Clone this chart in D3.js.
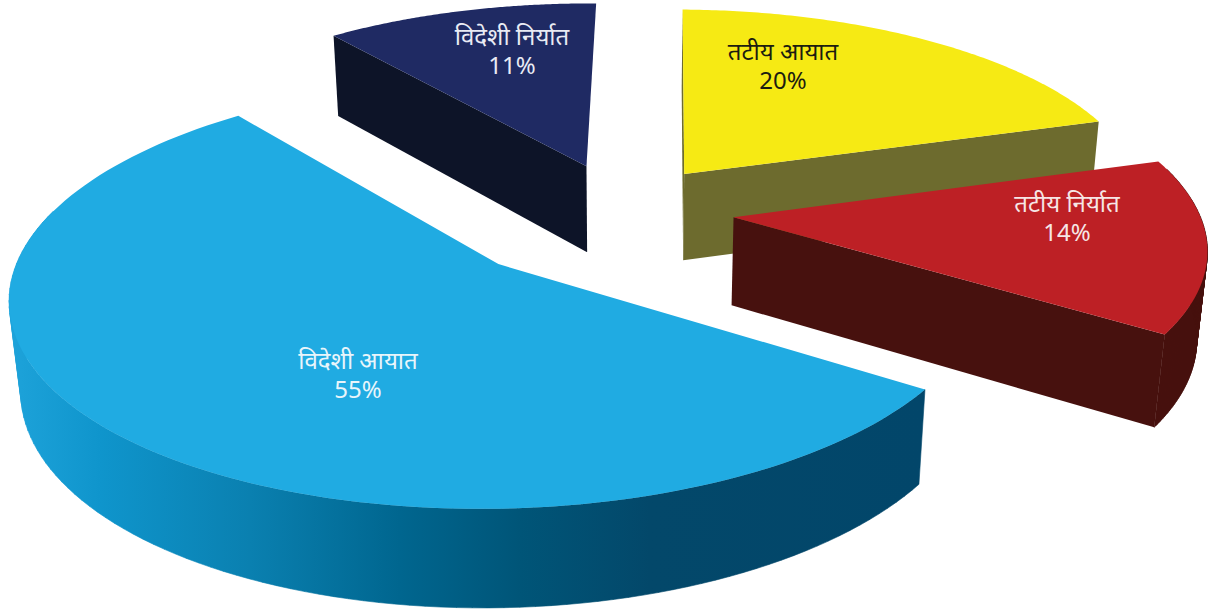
<!DOCTYPE html>
<html>
<head>
<meta charset="utf-8">
<script src="https://cdn.jsdelivr.net/npm/d3@7"></script>
<style>
    body { margin: 0; background: #fff; }
    text { font-family: "Noto Sans", "Open Sans", sans-serif; font-size: 24px; text-anchor: middle; }
</style>
</head>
<body>
<svg id="chart" width="1215" height="609"></svg>
<script>
const sliceLabels = ["विदेशी निर्यात", "तटीय आयात", "तटीय निर्यात", "विदेशी आयात"];
const sliceValues = [11, 20, 14, 55];

const topColors = ["#1f2a63", "#f6ea14", "#bd2025", "#20abe2"];
const sideColors = ["#0d1428", "#6d6b2e", "#47110e", "url(#blueWall)"];
const textColors = ["#e9ebf4", "#1c1c10", "#f6e6e6", "#e8f5fb"];

// how far each slice is pulled out of the pie, in pie radii
const explodeX = [-0.083, 0.133, 0.234, -0.262];
const explodeY = [0.127, 0.085, -0.14, -0.37];

// which straight cut faces can be seen: [start, end]
const cutsVisible = [[true, false], [true, true], [false, true], [false, false]];

// label anchors on the page
const labelX = [512, 783, 1067, 358];
const labelY = [45, 60, 212, 369];
const lineGap = 29;

// side shading of the big slice, left to right
const wallStops = [8, 100, 250, 400, 520, 650, 925];
const wallColors = ["#1ea3da", "#0f95cc", "#0a80b0", "#00668f", "#005578", "#03486a", "#02466a"];

// perspective camera, fitted against the picture
const cam = { cx: 624.065, cy: 190, a: 458.262, b: 190.325, c: 88.547, k: 0.133, m: 0.018, s: -1.511 };
const startDeg = -38.644;

function project(x, y, z) {
    const w = 1 + cam.k * y + cam.m * z;
    return [cam.cx + (cam.a * x + cam.s * y) / w, cam.cy - cam.b * y / w + cam.c * z / w];
}

const svg = d3.select("#chart");

const wallX = d3.scaleLinear().domain([8, 925]).range([0, 100]);
const gradient = svg.append("defs").append("linearGradient")
    .attr("id", "blueWall")
    .attr("gradientUnits", "userSpaceOnUse")
    .attr("x1", 8).attr("x2", 925).attr("y1", 0).attr("y2", 0);
wallStops.forEach((x, i) => {
    gradient.append("stop").attr("offset", `${wallX(x)}%`).attr("stop-color", wallColors[i]);
});

const startAngle = startDeg * Math.PI / 180;
const slices = d3.pie().sort(null).startAngle(startAngle).endAngle(startAngle + 2 * Math.PI)(sliceValues);

const line = d3.line();

slices.forEach((d, i) => {
    const rim = (a, z) => project(explodeX[i] + Math.sin(a), explodeY[i] + Math.cos(a), z);
    const apex = (z) => project(explodeX[i], explodeY[i], z);
    const steps = d3.range(0, 121).map(k => d.startAngle + (d.endAngle - d.startAngle) * k / 120);
    const g = svg.append("g");

    // straight cut faces
    [d.startAngle, d.endAngle].forEach((a, j) => {
        if (!cutsVisible[i][j]) return;
        g.append("path")
            .attr("d", line([apex(0), rim(a, 0), rim(a, 1), apex(1)]) + "Z")
            .attr("fill", sideColors[i]);
    });

    // outer wall: strips in one path, all wound the same way so the fold at the edge doesn't cancel
    const strips = d3.pairs(steps)
        .filter(([a0, a1]) => Math.cos((a0 + a1) / 2) <= 0.25)
        .map(([a0, a1]) => {
            const quad = [rim(a0, 0), rim(a1, 0), rim(a1, 1), rim(a0, 1)];
            return line(d3.polygonArea(quad) < 0 ? quad.reverse() : quad) + "Z";
        });
    g.append("path")
        .attr("d", strips.join(""))
        .attr("fill", sideColors[i])
        .attr("stroke", sideColors[i])
        .attr("stroke-width", 0.6);

    // top face
    const top = [apex(0)].concat(steps.map(a => rim(a, 0)));
    g.append("path").attr("d", line(top) + "Z").attr("fill", topColors[i]);
});

sliceLabels.forEach((label, i) => {
    const t = svg.append("text").attr("fill", textColors[i]);
    t.append("tspan").attr("x", labelX[i]).attr("y", labelY[i]).text(label);
    t.append("tspan").attr("x", labelX[i]).attr("y", labelY[i] + lineGap).text(sliceValues[i] + "%");
});
</script>
</body>
</html>
